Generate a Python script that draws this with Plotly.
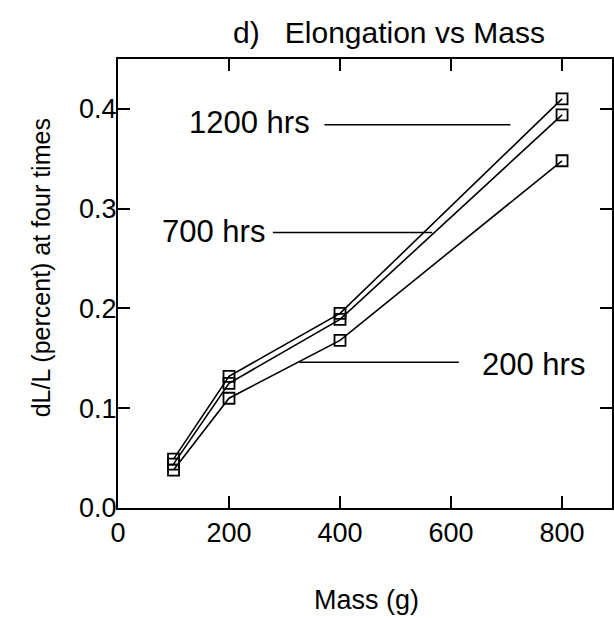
import plotly.graph_objects as go

mass = [100, 200, 400, 800]
series_names = ["1200 hrs", "700 hrs", "200 hrs"]
dl_1200 = [0.049, 0.132, 0.195, 0.410]
dl_700 = [0.044, 0.125, 0.189, 0.394]
dl_200 = [0.038, 0.110, 0.168, 0.348]

x_ticks = [0, 200, 400, 600, 800]
y_ticks = [0.0, 0.1, 0.2, 0.3, 0.4]

# label text positions (data coords) and pointer segments (x0, x1, y)
label_text = ["1200 hrs", "700 hrs", "200 hrs"]
label_x = [350, 268, 652]
label_y = [0.386, 0.277, 0.144]
label_anchor = ["right", "right", "left"]
pointer_x0 = [372, 279, 327]
pointer_x1 = [707, 566, 614]
pointer_y = [0.384, 0.276, 0.146]

FONT = "Liberation Sans, Arial, Helvetica, sans-serif"

fig = go.Figure()
for name, vals in zip(series_names, [dl_1200, dl_700, dl_200]):
    fig.add_trace(go.Scatter(
        x=mass, y=vals, name=name, mode="lines+markers",
        line=dict(color="black", width=1.6),
        marker=dict(symbol="square-open", size=11, color="black",
                    line=dict(width=1.8, color="black")),
        showlegend=False,
    ))

shapes = []
ann = []
for t, lx, ly, la, x0, x1, py in zip(label_text, label_x, label_y, label_anchor,
                                      pointer_x0, pointer_x1, pointer_y):
    shapes.append(dict(type="line", xref="x", yref="y", x0=x0, x1=x1, y0=py, y1=py,
                       line=dict(color="black", width=1.5)))
    ann.append(dict(text=t, x=lx, y=ly, xref="x", yref="y",
                    xanchor=la, yanchor="middle", showarrow=False,
                    font=dict(size=31, color="black", family=FONT)))

plot_w = 614 - 118
plot_h = 618 - 59 - 110
ann.append(dict(text="Mass (g)", x=(368 - 118) / plot_w, y=-(600 - 508) / plot_h,
                xref="paper", yref="paper", xanchor="center", yanchor="middle",
                showarrow=False, font=dict(size=27, color="black", family=FONT)))
ann.append(dict(text="dL/L (percent) at four times", x=-(118 - 41) / plot_w,
                y=(508 - 268) / plot_h, xref="paper", yref="paper",
                xanchor="center", yanchor="middle", textangle=-90,
                showarrow=False, font=dict(size=25, color="black", family=FONT)))

fig.update_layout(
    width=614, height=618,
    margin=dict(l=118, r=0, t=59, b=110),
    paper_bgcolor="white", plot_bgcolor="white",
    font=dict(family=FONT, color="black", size=26),
    title=dict(text="d)   Elongation vs Mass", x=389 / 614, xanchor="center",
               y=1 - 32 / 618, yanchor="middle",
               font=dict(size=30, family=FONT, color="black")),
    shapes=shapes,
    annotations=ann,
)

fig.update_xaxes(
    range=[0, 890], tickvals=x_ticks, ticktext=[str(v) for v in x_ticks],
    ticks="inside", ticklen=12, tickwidth=1.5, tickcolor="black",
    showline=True, linecolor="black", linewidth=2, mirror="allticks",
    showgrid=False, zeroline=False,
    tickfont=dict(size=27, family=FONT, color="black"),
)
fig.update_yaxes(
    range=[0, 0.45], tickvals=y_ticks, ticktext=[f"{v:.1f}" for v in y_ticks],
    ticks="inside", ticklen=12, tickwidth=1.5, tickcolor="black",
    showline=True, linecolor="black", linewidth=2, mirror="allticks",
    showgrid=False, zeroline=False, ticklabelstandoff=-6,
    tickfont=dict(size=27, family=FONT, color="black"),
)

fig.write_html("out.html")
